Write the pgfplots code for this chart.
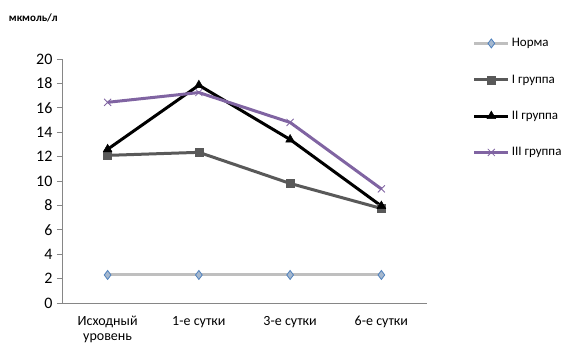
\documentclass[border=0pt]{standalone}
\usepackage{pgfplots}
\pgfplotsset{compat=1.18}
\usepackage{fontspec}
\setmainfont{Carlito}
\definecolor{axisgray}{HTML}{868686}
\definecolor{normline}{HTML}{BFBFBF}
\definecolor{normfill}{HTML}{A6B8CE}
\definecolor{normedge}{HTML}{4F81BD}
\definecolor{grpone}{HTML}{595959}
\definecolor{grpthree}{HTML}{8064A2}
\begin{document}
\begin{tikzpicture}
\path[use as bounding box] (-62pt,-40pt) rectangle (506pt,303pt);
\begin{axis}[
  scale only axis,
  width=365pt, height=244pt,
  at={(0pt,0pt)}, anchor=south west,
  xmin=-0.5, xmax=3.5,
  ymin=0, ymax=20,
  ytick={0,2,...,20},
  xtick={0,1,2,3},
  xticklabels={{Исходный\\уровень},{1-е сутки},{3-е сутки},{6-е сутки}},
  xticklabel style={align=center, font=\fontsize{14}{14.5}\selectfont, yshift=-5pt},
  major x tick style={draw=none},
  extra x ticks={-0.5,0.5,1.5,2.5,3.5},
  extra x tick labels={},
  extra x tick style={major tick length=5pt, tick style={draw=axisgray, line width=0.8pt}},
  yticklabel style={font=\fontsize{16}{18}\selectfont, xshift=-1pt},
  tick align=outside,
  major tick length=5pt,
  tick style={draw=axisgray, line width=0.8pt},
  axis x line*=bottom, axis y line*=left,
  axis line style={draw=axisgray, line width=0.8pt, -},
  clip=false,
  /pgf/number format/assume math mode=true,
  legend cell align=left,
  legend style={at={(axis description cs:1.125,1.093)}, anchor=north west,
    draw=none, fill=none, font=\fontsize{13}{15}\selectfont,
    row sep=22.5pt, inner sep=0pt},
  legend image code/.code={\draw[mark repeat=2,mark phase=2,#1]
    plot coordinates {(0pt,0pt)(17pt,0pt)(34pt,0pt)};},
]
\node[anchor=west, font=\fontsize{11}{13}\selectfont\bfseries] at (axis description cs:-0.155,1.167) {мкмоль/л};
% Норма
\addplot[normline, line width=3pt, mark=diamond*, mark size=4.5pt,
  mark options={fill=normfill, draw=normedge, line width=0.8pt}]
  coordinates {(0,2.3) (1,2.3) (2,2.3) (3,2.3)};
\addlegendentry{Норма}
% I группа
\addplot[grpone, line width=3pt, mark=square*, mark size=4pt,
  mark options={fill=grpone, draw=grpone, line width=0.5pt}]
  coordinates {(0,12.1) (1,12.35) (2,9.8) (3,7.75)};
\addlegendentry{I группа}
% II группа
\addplot[black, line width=3pt, mark=triangle*, mark size=5pt,
  mark options={fill=black, line width=0.5pt}]
  coordinates {(0,12.6) (1,17.85) (2,13.4) (3,7.95)};
\addlegendentry{II группа}
% III группа
\addplot[grpthree, line width=3pt, mark=x, mark size=5pt,
  mark options={draw=grpthree, line width=0.8pt}]
  coordinates {(0,16.45) (1,17.25) (2,14.8) (3,9.35)};
\addlegendentry{III группа}
\end{axis}
\end{tikzpicture}
\end{document}
